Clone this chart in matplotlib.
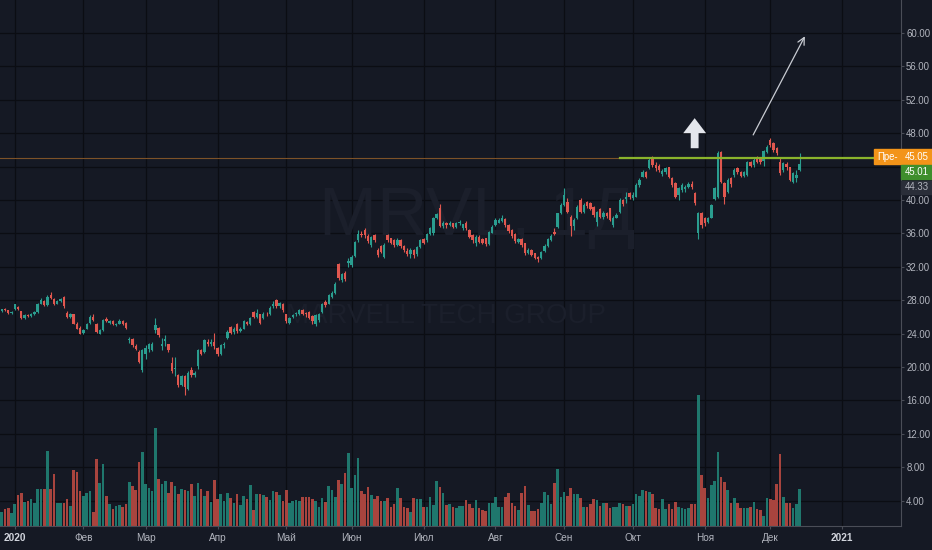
import numpy as np
import matplotlib.pyplot as plt
from matplotlib.patches import Rectangle

plt.rcParams['font.family'] = ['Liberation Sans', 'DejaVu Sans']

W, H = 932, 550
BG = '#151924'
GRID = '#0b0d13'
UP = '#2a9d8f'
DOWN = '#e0574f'
UP_VOL = '#1f776d'
DOWN_VOL = '#a8443e'
TXT = '#b2b5be'
AXIS = '#4a4d57'

# daily bars, 26 Dec 2019 .. 14 Dec 2020 (trading-day index)
opens = [
    26.7, 26.9, 26.8, 26.5,
    26.9, 27.2, 26.7, 25.9, 26.2, 26.1, 26.3, 26.6, 27.6, 27.9, 27.4, 28.6, 28.2, 27.6, 27.9, 28.4, 26.5, 26.0, 26.3, 25.2, 24.7,
    24.1, 24.6, 25.3, 26.0, 25.2, 24.0, 24.4, 25.8, 25.3, 25.5, 25.0, 25.2, 25.5, 25.3, 23.2, 23.4, 22.5, 21.8, 19.7,
    21.6, 22.1, 22.0, 24.4, 24.7, 22.5, 23.1, 22.7, 20.5, 19.8, 19.0, 17.9, 18.9, 17.4, 19.7, 19.0, 20.1, 22.0, 21.8, 23.0, 22.7, 23.0,
    22.3, 21.6, 22.6, 23.5, 24.8, 24.2, 25.1, 24.3, 24.6, 25.4, 25.1, 26.6, 26.0, 26.3, 25.9, 26.4, 26.3, 27.3, 28.0, 27.3, 27.6,
    26.3, 25.3, 26.0, 26.3, 26.3, 26.8, 26.5, 26.6, 26.1, 25.1, 25.6, 26.6, 27.8, 27.6, 28.4, 28.9, 32.3, 30.4, 31.2, 32.4,
    32.2, 33.3, 35.2, 35.9, 36.4, 35.7, 34.6, 35.8, 34.0, 34.5, 33.2, 35.8, 35.4, 35.2, 34.6, 35.2, 34.5, 33.9, 33.5, 34.0, 33.5, 34.4,
    35.3, 35.2, 35.9, 36.0, 37.8, 39.1, 36.9, 37.3, 37.0, 37.2, 36.8, 37.2, 36.6, 37.3, 36.4, 35.8, 34.8, 35.6, 35.3, 35.4, 34.7, 36.1,
    37.0, 37.3, 37.5, 37.7, 37.0, 36.4, 35.9, 35.0, 35.3, 34.8, 33.6, 34.0, 33.6, 33.2, 33.0, 33.9, 34.5, 35.2, 36.2, 36.8, 38.4,
    39.4, 39.8, 38.0, 36.9, 37.9, 40.0, 38.6, 39.8, 39.6, 39.2, 37.4, 38.9, 38.0, 38.4, 39.0, 37.0, 37.9, 38.6, 40.0, 40.1, 40.8,
    40.2, 40.4, 41.8, 42.8, 43.4, 43.8, 45.0, 44.2, 44.1, 43.1, 43.3, 43.9, 42.6, 42.0, 40.6, 41.2, 41.3, 41.6, 41.9, 40.8, 36.0, 38.4,
    37.8, 37.4, 37.9, 40.1, 40.4, 45.7, 42.0, 41.0, 42.6, 43.0, 43.8, 43.4, 42.9, 43.0, 44.5, 44.2, 45.1, 45.1, 44.7, 45.8,
    47.2, 46.8, 46.2, 44.6, 43.6, 44.3, 43.9, 42.2, 42.6, 43.6,
]
highs = [
    27.0, 27.1, 26.8, 26.7,
    27.6, 27.3, 26.7, 26.3, 26.4, 26.5, 26.7, 27.7, 28.3, 28.0, 28.6, 29.0, 28.3, 28.0, 28.3, 28.5, 26.7, 26.5, 26.3, 25.4, 24.9,
    24.6, 25.3, 26.2, 26.3, 25.3, 24.5, 25.7, 26.0, 25.6, 25.6, 25.3, 25.7, 25.6, 25.4, 23.6, 23.5, 22.8, 22.0, 22.1,
    22.6, 22.9, 23.0, 25.9, 24.8, 23.5, 23.8, 22.8, 21.2, 21.2, 19.2, 19.1, 19.0, 19.5, 20.0, 19.5, 22.2, 22.2, 23.3, 23.4, 23.3, 24.1,
    22.4, 22.7, 23.0, 24.4, 24.9, 24.8, 25.3, 24.8, 25.6, 25.5, 26.0, 26.7, 26.9, 26.4, 26.6, 26.6, 27.3, 27.9, 28.2, 27.8, 27.7,
    26.4, 26.0, 26.3, 26.6, 26.9, 27.0, 26.6, 26.7, 26.2, 26.3, 26.5, 27.7, 28.0, 28.8, 29.1, 30.2, 32.4, 31.3, 31.5, 33.0,
    33.4, 35.1, 36.4, 36.3, 36.6, 35.9, 35.7, 35.9, 34.2, 34.6, 34.8, 35.9, 35.5, 35.3, 35.4, 35.3, 34.6, 34.2, 34.2, 34.1, 34.5, 35.3,
    35.5, 36.1, 36.8, 38.0, 38.5, 39.5, 37.5, 37.4, 37.5, 37.3, 37.4, 37.6, 37.1, 37.5, 36.5, 35.9, 35.8, 35.8, 35.4, 35.5, 36.3, 37.0,
    37.8, 37.8, 38.2, 37.8, 37.1, 36.5, 36.0, 35.5, 35.4, 34.9, 34.2, 34.1, 33.7, 33.3, 33.9, 34.7, 35.4, 35.9, 36.6, 38.5, 39.6,
    41.4, 40.2, 38.2, 37.8, 39.4, 40.2, 39.6, 39.9, 39.8, 39.3, 38.7, 39.0, 38.7, 38.6, 39.1, 38.1, 38.5, 40.2, 40.1, 41.0, 41.0,
    40.9, 42.0, 42.6, 43.6, 43.5, 45.2, 45.3, 44.5, 44.3, 43.7, 44.0, 44.0, 42.7, 42.1, 41.6, 42.0, 41.8, 42.2, 42.3, 40.9, 38.6, 38.6,
    38.0, 38.0, 39.5, 41.6, 45.9, 45.9, 42.1, 42.6, 42.8, 43.8, 44.0, 43.5, 43.5, 44.7, 44.7, 45.0, 45.3, 45.2, 46.0, 46.6,
    47.4, 46.9, 46.3, 45.1, 44.6, 44.5, 44.0, 43.3, 43.6, 45.6,
]
lows = [
    26.6, 26.7, 26.4, 26.4,
    26.8, 26.8, 25.8, 25.8, 26.0, 26.0, 26.2, 26.5, 27.5, 27.3, 27.3, 28.1, 27.4, 27.5, 27.8, 27.1, 25.9, 25.9, 25.1, 24.5, 23.9,
    23.9, 24.5, 25.2, 25.5, 24.1, 23.9, 24.3, 25.4, 25.1, 25.0, 24.9, 25.1, 25.0, 24.6, 22.9, 22.4, 22.0, 20.5, 19.4,
    21.0, 21.8, 21.9, 24.1, 23.6, 22.0, 22.5, 21.8, 19.3, 18.9, 17.6, 17.7, 16.6, 17.2, 18.8, 18.8, 19.8, 21.4, 21.7, 22.5, 22.5, 22.2,
    21.3, 21.4, 22.3, 23.3, 23.9, 24.0, 24.1, 24.2, 24.5, 25.0, 25.0, 25.9, 25.9, 25.2, 25.8, 26.1, 26.2, 27.1, 27.1, 27.1, 26.6,
    25.3, 25.1, 25.9, 26.1, 26.2, 26.2, 26.0, 25.8, 25.2, 24.9, 25.4, 26.5, 27.2, 27.5, 28.3, 28.8, 30.4, 30.2, 30.3, 32.0,
    32.0, 33.2, 35.0, 35.6, 35.5, 34.9, 34.4, 35.0, 33.2, 33.6, 33.0, 35.0, 34.7, 34.4, 34.5, 34.3, 33.8, 33.3, 33.1, 33.0, 33.3, 34.2,
    34.7, 35.0, 35.8, 35.8, 37.7, 36.8, 36.6, 36.7, 36.9, 36.6, 36.6, 37.0, 36.4, 36.4, 35.4, 34.8, 34.5, 34.9, 34.7, 34.5, 34.6, 36.0,
    36.9, 37.2, 37.4, 36.8, 36.1, 35.5, 34.9, 34.9, 34.4, 33.4, 33.5, 33.3, 32.9, 32.6, 32.9, 33.8, 34.4, 35.1, 35.8, 36.7, 38.3,
    39.3, 38.4, 35.7, 36.4, 37.7, 38.5, 38.4, 39.0, 38.8, 38.0, 36.9, 37.8, 37.7, 37.9, 37.5, 36.8, 37.8, 38.5, 39.3, 39.6, 40.1,
    40.0, 40.3, 41.6, 42.7, 42.6, 43.7, 44.0, 43.5, 43.4, 42.9, 43.1, 42.6, 41.6, 40.2, 40.0, 41.0, 41.0, 41.4, 41.3, 39.4, 35.3, 36.6,
    36.9, 37.2, 37.8, 40.0, 40.2, 42.0, 39.5, 40.8, 41.5, 42.8, 43.1, 42.7, 42.7, 42.9, 43.9, 44.0, 44.4, 44.3, 44.1, 45.6,
    46.4, 45.8, 45.4, 43.0, 43.4, 43.6, 42.3, 42.0, 42.2, 43.5,
]
closes = [
    26.9, 26.8, 26.5, 26.6,
    27.5, 27.0, 25.9, 26.2, 26.1, 26.4, 26.6, 27.6, 28.0, 27.4, 28.4, 28.3, 27.5, 27.9, 28.2, 27.3, 26.0, 26.4, 25.2, 24.6, 24.0,
    24.4, 25.2, 26.0, 25.6, 24.2, 24.4, 25.6, 25.5, 25.5, 25.1, 25.2, 25.5, 25.2, 24.7, 23.4, 22.6, 22.2, 20.6, 22.0,
    22.3, 22.7, 22.8, 25.0, 23.8, 22.7, 23.3, 22.0, 19.5, 19.9, 17.8, 18.9, 17.6, 19.3, 19.0, 19.3, 22.0, 21.6, 23.2, 22.7, 23.0, 22.5,
    21.5, 22.6, 22.8, 24.2, 24.1, 24.6, 24.3, 24.6, 25.5, 25.1, 25.9, 26.0, 26.5, 25.3, 26.4, 26.3, 27.1, 27.5, 27.3, 27.7, 26.8,
    25.5, 25.9, 26.2, 26.5, 26.8, 26.3, 26.3, 25.9, 25.5, 26.2, 26.3, 27.6, 27.4, 28.6, 28.9, 30.0, 30.6, 31.1, 30.5, 32.7,
    33.2, 35.0, 35.9, 35.8, 35.8, 35.1, 35.6, 35.2, 33.4, 33.8, 34.6, 35.2, 34.9, 34.6, 35.2, 34.5, 34.0, 33.5, 34.0, 33.4, 34.4, 35.2,
    34.9, 35.9, 36.6, 37.8, 38.3, 36.9, 37.3, 37.0, 37.3, 36.8, 37.2, 37.4, 37.1, 36.6, 35.6, 35.2, 35.6, 35.0, 34.9, 34.7, 36.2, 36.8,
    37.6, 37.6, 37.9, 37.0, 36.3, 35.7, 35.1, 35.3, 34.6, 33.6, 34.0, 33.4, 33.1, 32.9, 33.8, 34.5, 35.3, 35.7, 35.9, 38.4, 39.4,
    40.6, 38.6, 36.9, 37.6, 39.2, 38.6, 39.4, 39.3, 38.9, 38.2, 38.6, 38.0, 38.5, 38.1, 37.6, 37.9, 38.2, 40.0, 39.5, 40.4, 40.3,
    40.6, 41.8, 42.4, 43.4, 42.8, 44.8, 44.2, 43.8, 43.6, 43.5, 43.8, 42.8, 41.8, 40.4, 41.4, 41.8, 41.6, 41.9, 41.5, 39.6, 38.4, 37.0,
    37.2, 37.8, 39.4, 41.4, 45.6, 42.2, 40.4, 42.4, 41.9, 43.6, 43.3, 42.9, 43.3, 44.5, 44.1, 44.8, 44.6, 44.5, 45.9, 46.4,
    46.6, 46.0, 45.6, 43.2, 44.4, 43.9, 42.4, 43.2, 43.0, 44.3,
]
# volume, millions of shares
volumes = [
    7.2, 8.3, 9.2, 6.7,
    10.8, 15.5, 16.5, 12.0, 12.5, 13.3, 11.7, 18.7, 18.3, 18.3, 37.5, 18.3, 25.8, 11.7, 11.3, 11.3, 13.3, 10.0, 28.0, 27.2, 17.5,
    15.0, 16.7, 17.5, 7.2, 33.3, 21.3, 31.2, 15.0, 11.2, 8.7, 10.0, 10.3, 9.5, 10.8, 22.0, 20.0, 18.0, 32.0, 37.2,
    21.2, 19.2, 17.5, 48.8, 23.3, 21.2, 22.5, 16.7, 22.2, 20.0, 15.8, 18.3, 18.0, 17.5, 20.8, 15.0, 21.7, 18.3, 15.0, 17.5, 12.0, 23.0,
    13.3, 15.8, 12.5, 16.5, 14.2, 11.3, 15.8, 10.5, 15.0, 13.3, 20.3, 8.0, 15.8, 16.2, 15.3, 14.5, 13.0, 17.5, 17.2, 15.3, 12.5,
    18.0, 11.3, 12.5, 12.8, 12.5, 14.5, 14.5, 14.5, 13.7, 12.5, 9.7, 14.2, 12.0, 20.0, 18.0, 14.5, 22.8, 20.8, 26.7, 36.3,
    19.2, 25.3, 34.2, 17.5, 15.8, 19.7, 15.3, 13.7, 15.0, 12.5, 12.5, 13.8, 9.5, 10.8, 18.8, 14.2, 9.7, 9.2, 7.2, 14.2, 13.3, 13.3,
    9.5, 9.7, 14.7, 10.5, 22.5, 19.7, 16.3, 10.3, 10.8, 9.7, 9.2, 10.0, 10.0, 13.0, 10.8, 9.2, 13.2, 9.2, 8.0, 7.5, 11.7, 11.7,
    14.5, 9.5, 9.5, 14.5, 16.5, 11.7, 10.0, 8.0, 16.7, 20.0, 10.5, 7.5, 7.5, 8.3, 11.7, 17.2, 15.3, 10.8, 21.3, 28.5, 14.7,
    17.0, 15.0, 18.8, 16.2, 15.8, 13.8, 9.5, 9.5, 10.8, 13.3, 13.0, 10.0, 11.3, 11.3, 8.8, 9.7, 9.5, 11.7, 10.8, 10.0, 10.0,
    10.8, 15.8, 15.0, 18.0, 17.5, 17.2, 16.2, 9.2, 8.3, 13.3, 8.3, 11.2, 8.7, 12.0, 9.5, 9.2, 8.3, 8.8, 10.8, 10.8, 65.5, 25.5,
    18.8, 13.8, 20.5, 22.5, 37.2, 24.5, 22.2, 17.8, 11.3, 14.2, 11.7, 9.2, 8.8, 8.8, 9.7, 12.0, 8.3, 8.0, 4.8, 13.8,
    13.3, 13.0, 20.8, 35.8, 14.5, 11.7, 11.3, 9.2, 10.8, 18.7,
]

month_pos = [4, 25, 44, 66, 87, 107, 129, 151, 172, 193, 215, 235, 257]
month_labels = ['2020', 'Фев', 'Мар', 'Апр', 'Май', 'Июн', 'Июл',
                'Авг', 'Сен', 'Окт', 'Ноя', 'Дек', '2021']
price_ticks = [4, 8, 12, 16, 20, 24, 28, 32, 36, 40, 48, 52, 56, 60]
grid_levels = list(range(4, 64, 4))
level_price = 45.05
level_start = 189

o = np.array(opens)
c = np.array(closes)
hi = np.array(highs)
lo = np.array(lows)
vol = np.array(volumes)
idx = np.arange(len(c))
up = c >= o

XLIM = (-0.52, 275.0)
PLIM = (0.96, 63.95)

fig = plt.figure(figsize=(W / 100, H / 100), dpi=100, facecolor=BG)
rect = [0, 24 / H, 901 / W, 526 / H]

# background + grid
axg = fig.add_axes(rect, facecolor=BG)
axg.set_xlim(*XLIM)
axg.set_ylim(*PLIM)
for v in grid_levels:
    axg.axhline(v, color=GRID, lw=0.9)
for p in month_pos:
    axg.axvline(p, color=GRID, lw=0.9)
axg.text(0.53, 0.587, 'MRVL, 1Д', transform=axg.transAxes, ha='center', va='center',
         fontsize=50, color='#1b1f2b')
axg.text(0.495, 0.40, 'MARVELL TECH GROUP', transform=axg.transAxes, ha='center', va='center',
         fontsize=20, color='#1b1f2b')
axg.axis('off')

# volume
axv = fig.add_axes(rect, facecolor='none')
axv.set_xlim(*XLIM)
axv.set_ylim(0, 263)
axv.bar(idx, vol, width=0.8, color=np.where(up, UP_VOL, DOWN_VOL), lw=0)
axv.axis('off')

# candles
ax = fig.add_axes(rect, facecolor='none')
ax.set_xlim(*XLIM)
ax.set_ylim(*PLIM)
colors = np.where(up, UP, DOWN)
ax.vlines(idx, lo, hi, colors=colors, lw=0.8, zorder=3)
body = np.maximum(np.abs(c - o), 0.07)
ax.bar(idx, body, bottom=np.minimum(o, c), width=0.72, color=colors, lw=0, zorder=4)

ax.axhline(level_price, color='#7d5228', lw=0.8, zorder=2)
ax.plot([level_start, XLIM[1]], [level_price, level_price], color='#8ab42c', lw=1.6, zorder=5)

ax.arrow(211.9, 46.2, 0, 3.6, width=2.4, head_width=7, head_length=1.8,
         length_includes_head=True, color='#e4e6ec', lw=0, zorder=6)
ax.annotate('', xy=(246.0, 59.9), xytext=(229.4, 47.5),
            arrowprops=dict(arrowstyle='->,head_length=0.5,head_width=0.25',
                            color='#c9ccd3', lw=0.9), zorder=6)

for s in ['top', 'left']:
    ax.spines[s].set_visible(False)
for s in ['right', 'bottom']:
    ax.spines[s].set_color(AXIS)
    ax.spines[s].set_linewidth(0.8)

ax.yaxis.tick_right()
ax.set_yticks(price_ticks)
ax.set_yticklabels([f'{v:.2f}' for v in price_ticks])
ax.tick_params(axis='y', length=2.2, pad=1.5, labelsize=6.9, colors=AXIS, labelcolor=TXT)
ax.set_xticks(month_pos)
ax.set_xticklabels(month_labels)
ax.tick_params(axis='x', length=2.2, pad=2.8, labelsize=7.2, colors=AXIS, labelcolor=TXT)
for lab in ax.get_xticklabels():
    if lab.get_text().isdigit():
        lab.set_fontweight('bold')
        lab.set_color('#d1d4dc')


def px_box(x0, y0, x1, y1, color, text, tcolor='white'):
    fig.patches.append(Rectangle((x0 / W, 1 - y1 / H), (x1 - x0) / W, (y1 - y0) / H,
                                 transform=fig.transFigure, color=color, zorder=10))
    fig.text((x0 + x1) / 2 / W, 1 - (y0 + y1) / 2 / H, text, ha='center', va='center',
             color=tcolor, fontsize=6.9, zorder=11)


px_box(874, 149, 901, 164, '#f39419', 'Пре-')
px_box(901, 149, 932, 164, '#f39419', '45.05')
px_box(901, 165, 932, 179, '#3e8e2c', '45.01')
px_box(901, 181, 932, 194, '#2a2e39', '44.33', TXT)

fig.savefig('out.png', dpi=100, facecolor=BG)
